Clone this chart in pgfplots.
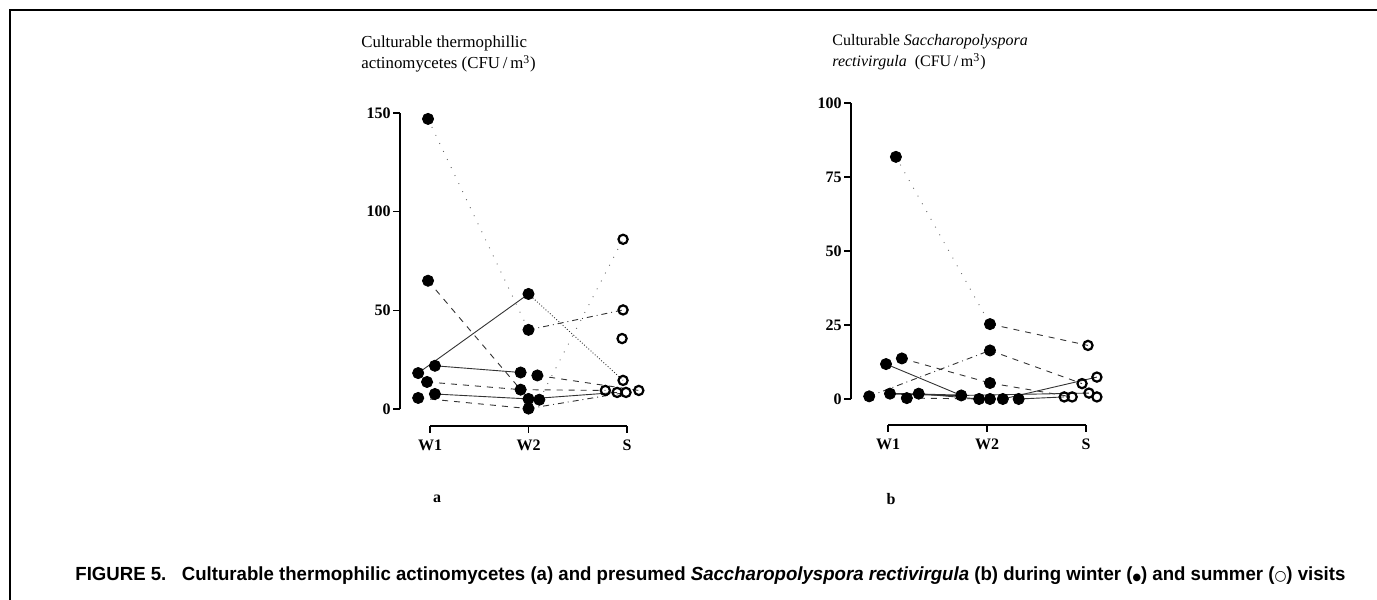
\documentclass[border=0pt]{standalone}
\usepackage{pgfplots}
\pgfplotsset{compat=1.18}
\usepackage{fontspec}
\setmainfont{Liberation Serif}
\newfontfamily\capfont{Liberation Sans}
\newfontfamily\symfont{DejaVu Sans}
\pgfplotsset{
  myax/.style={
    scale only axis,
    axis x line=bottom, axis y line=left,
    axis line style={-, line width=0.9pt},
    tick align=outside, major tick length=3.5pt,
    tick style={line width=0.8pt, black},
    xtick={0,1,2}, xticklabels={W1,W2,S},
    xmin=0, xmax=2, ymin=0,
    clip=false, enlargelimits=false,
    tick label style={font=\fontsize{8}{9}\selectfont\bfseries},
    yticklabel style={inner xsep=1pt},
    /pgf/number format/assume math mode=true,
  },
  seg/.style={black!80, line width=0.45pt, no marks},
  wint/.style={only marks, mark=*, mark size=2.8pt, black},
  summ/.style={only marks, mark=o, mark size=2.3pt, black, line width=1.1pt, mark options={fill=white}},
}
\begin{document}
\begin{tikzpicture}
\useasboundingbox (0pt,0pt) rectangle (688.5pt,300pt);
\draw[line width=1pt] (5pt,0pt) -- (5pt,295pt) -- (688.5pt,295pt);

% titles
\node[anchor=base west, inner sep=0pt, font=\fontsize{8.4}{10}\selectfont] at (180.5pt,276pt) {Culturable thermophillic};
\node[anchor=base west, inner sep=0pt, font=\fontsize{8.4}{10}\selectfont] at (180.5pt,265.5pt) {actinomycetes (CFU\,/\,m\textsuperscript{3})};
\node[anchor=base west, inner sep=0pt, font=\fontsize{8}{10}\selectfont] at (416pt,277pt) {Culturable \textit{Saccharopolyspora}};
\node[anchor=base west, inner sep=0pt, font=\fontsize{8}{10}\selectfont] at (416pt,266.5pt) {\textit{rectivirgula}\ \ (CFU\,/\,m\textsuperscript{3})};

% left panel
\begin{axis}[myax, at={(215pt,95.5pt)}, anchor=south west,
  width=98.5pt, height=148pt, ymax=150, ytick={0,50,100,150},
  axis x line shift=8.5pt, axis y line shift=15pt]
\addplot[seg] coordinates {(-0.12,18.2) (1.0,58.3)};
\addplot[seg, densely dotted] coordinates {(1.0,58.3) (1.96,14.5)};
\addplot[seg, dashed] coordinates {(-0.02,65) (0.92,9.8)};
\addplot[seg, loosely dotted, black!60] coordinates {(-0.02,147) (1.0,40.1)};
\addplot[seg, dashdotted] coordinates {(1.0,40.1) (1.96,50.2)};
\addplot[seg] coordinates {(0.05,21.9) (0.92,18.5)};
\addplot[seg, dashed] coordinates {(1.09,17) (2.12,9.4)};
\addplot[seg, dashed] coordinates {(-0.03,13.7) (0.92,9.8)};
\addplot[seg] coordinates {(0.05,7.6) (1.0,5.1)};
\addplot[seg, dashed] coordinates {(-0.12,5.6) (1.0,0.2)};
\addplot[seg, dashed] coordinates {(0.92,9.8) (1.78,9.4)};
\addplot[seg] coordinates {(1.0,5.1) (1.90,8.4)};
\addplot[seg, dashdotted] coordinates {(1.0,0.2) (1.99,8.4)};
\addplot[seg, loosely dotted, black!60] coordinates {(1.11,4.7) (1.96,86)};
\addplot[wint] table {
x y
-0.02 147
-0.02 65
-0.12 18.2
-0.03 13.7
0.05 21.9
-0.12 5.6
0.05 7.6
1.0 58.3
1.0 40.1
0.92 18.5
1.09 17
0.92 9.8
1.0 5.1
1.11 4.7
1.0 0.2
};
\addplot[summ] table {
x y
1.96 86
1.96 50.2
1.95 35.7
1.96 14.5
1.78 9.4
1.90 8.4
1.99 8.4
2.12 9.4
};
\end{axis}

% right panel
\begin{axis}[myax, at={(444pt,100.5pt)}, anchor=south west,
  width=99pt, height=148pt, ymax=100, ytick={0,25,50,75,100},
  axis x line shift=13pt, axis y line shift=18.5pt]
\addplot[seg, loosely dotted, black!60] coordinates {(0.08,81.8) (1.03,25.3)};
\addplot[seg, dashed] coordinates {(1.03,25.3) (2.02,18.1)};
\addplot[seg] coordinates {(-0.02,11.8) (0.74,1.2)};
\addplot[seg, dashed] coordinates {(0.14,13.7) (1.03,5.4)};
\addplot[seg, dashdotted] coordinates {(-0.19,0.9) (1.03,16.4)};
\addplot[seg, dashed] coordinates {(1.03,16.4) (1.96,5.2)};
\addplot[seg, dashed] coordinates {(1.03,5.4) (1.86,0.7)};
\addplot[seg, line width=0.8pt] coordinates {(0.02,1.8) (0.74,1.2)};
\addplot[seg] coordinates {(0.31,1.8) (0.92,0)};
\addplot[seg] coordinates {(1.16,0) (2.11,7.4)};
\addplot[seg] coordinates {(1.32,0) (1.78,0.7)};
\addplot[seg] coordinates {(0.74,1.2) (2.03,2.0)};
\addplot[seg, dashed] coordinates {(0.19,0.3) (1.03,0)};
\addplot[wint] table {
x y
0.08 81.8
-0.02 11.8
0.14 13.7
-0.19 0.9
0.02 1.8
0.19 0.3
0.31 1.8
1.03 25.3
1.03 16.4
1.03 5.4
0.74 1.2
0.92 0
1.03 0
1.16 0
1.32 0
};
\addplot[summ] table {
x y
2.02 18.1
2.11 7.4
1.96 5.2
2.03 2.0
1.78 0.7
1.86 0.7
2.11 0.7
};
\end{axis}

\node[font=\fontsize{8}{9}\selectfont\bfseries] at (218.5pt,50.5pt) {a};
\node[font=\fontsize{8}{9}\selectfont\bfseries] at (445.5pt,50.5pt) {b};

\node[anchor=base west, inner sep=0pt] at (37.5pt,9.5pt) {\resizebox{635pt}{\height}{\capfont\fontsize{9.5}{11}\selectfont\bfseries FIGURE 5.\ \ \ Culturable thermophilic actinomycetes (a) and presumed \textit{Saccharopolyspora rectivirgula} (b) during winter ({\symfont\fontsize{5}{6}\selectfont ●}) and summer ({\symfont\fontsize{7}{8}\selectfont ○}) visits}};
\end{tikzpicture}
\end{document}
